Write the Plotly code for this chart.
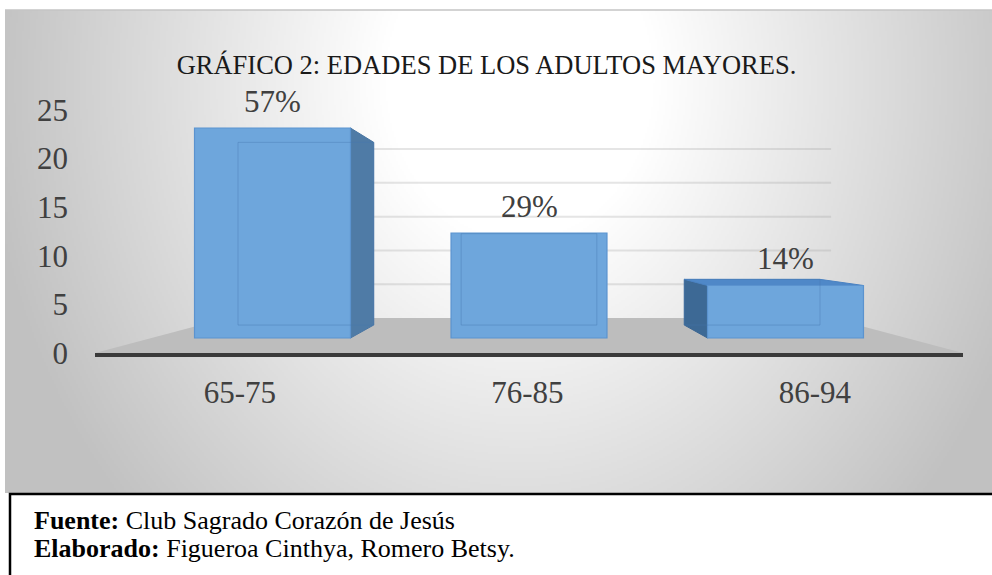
import base64
import struct
import zlib

import numpy as np
import plotly.graph_objects as go

# ---- data ----
categories = ["65-75", "76-85", "86-94"]
counts = [24, 12, 6]
y_ticks = [0, 5, 10, 15, 20, 25]

title_text = "GRÁFICO 2: EDADES DE LOS ADULTOS MAYORES."
source_line = "<b>Fuente:</b> Club Sagrado Corazón de Jesús"
author_line = "<b>Elaborado:</b> Figueroa Cinthya, Romero Betsy."

total = sum(counts)
percent_labels = [f"{round(100 * c / total)}%" for c in counts]

SERIF = "Liberation Serif, Times New Roman, DejaVu Serif, serif"

# ---- page geometry (pixels) ----
W, H = 992, 575
PL, PR, PT, PB = 95, 963, 40, 353          # plot area
PW, PH = PR - PL, PB - PT


def px_x(p):
    return (p - PL) / PW


def px_y(p):
    return (PB - p) / PH


# front plane (axis labels) and bar plane ranges
X_FRONT = [-0.504, 2.515]
Y_FRONT = [0, 32.2]
X_BAR = [-0.692, 2.692]
Y_BAR = [-1.714, 34.06]

# perspective: vanishing point in bar-plane coordinates and depth factors
VX, VY = 1.0, 11.4
S_BACK = 0.87     # back face of the bars
S_WALL = 0.696    # back wall / rear edge of the floor
BAR_W = 0.608


def proj(x, y, s):
    return VX + s * (x - VX), VY + s * (y - VY)


def path(pts):
    return "M " + " L ".join(f"{x:.4f},{y:.4f}" for x, y in pts) + " Z"


# ---- radial grey background of the chart area ----
def png_gray(arr):
    h, w = arr.shape
    raw = b"".join(b"\x00" + arr[r].tobytes() for r in range(h))

    def chunk(tag, data):
        return (struct.pack(">I", len(data)) + tag + data
                + struct.pack(">I", zlib.crc32(tag + data) & 0xFFFFFFFF))

    ihdr = struct.pack(">IIBBBBB", w, h, 8, 0, 0, 0, 0)
    return (b"\x89PNG\r\n\x1a\n" + chunk(b"IHDR", ihdr)
            + chunk(b"IDAT", zlib.compress(raw, 9)) + chunk(b"IEND", b""))


BG_L, BG_T, BG_R, BG_B = 5, 10, 992, 493
gw, gh = (BG_R - BG_L) // 2, (BG_B - BG_T) // 2
gx = np.linspace(BG_L, BG_R, gw)[None, :]
gy = np.linspace(BG_T, BG_B, gh)[:, None]
r = np.sqrt(((gx - 520) / 540) ** 2 + ((gy - 80) / 640) ** 2)
t = np.clip((r - 0.25) / 0.75, 0, 1)
shade = (255 - 62 * t).astype(np.uint8)
bg_uri = "data:image/png;base64," + base64.b64encode(png_gray(shade)).decode()

fig = go.Figure()

# carrier for the front-plane axes (category and value labels)
fig.add_trace(go.Scatter(x=[], y=[], xaxis="x", yaxis="y", mode="markers",
                         hoverinfo="skip", showlegend=False))

# front faces of the bars
fig.add_trace(go.Bar(
    x=list(range(len(categories))), y=counts, width=BAR_W,
    xaxis="x2", yaxis="y2",
    marker=dict(color="#6ea6dc", line=dict(color="#5b93cf", width=1.2)),
    hoverinfo="skip", showlegend=False,
))

shapes = []

# floor
f0 = (X_BAR[0], Y_BAR[0])
f1 = (X_BAR[1], Y_BAR[0])
shapes.append(dict(type="path", xref="x2", yref="y2", layer="below",
                   path=path([f0, f1, proj(*f1, S_WALL), proj(*f0, S_WALL)]),
                   fillcolor="#bdbdbd", line=dict(width=0)))

# gridlines on the back wall
scale = (Y_BAR[1] - Y_BAR[0]) / (Y_FRONT[1] - Y_FRONT[0])
for v in y_ticks[1:]:
    yb = Y_BAR[0] + v * scale
    xa, ya = proj(X_BAR[0], yb, S_WALL)
    xb, _ = proj(X_BAR[1], yb, S_WALL)
    shapes.append(dict(type="line", xref="x2", yref="y2", layer="below",
                       x0=xa, x1=xb, y0=ya, y1=ya,
                       line=dict(color="rgba(150,150,150,0.25)", width=2)))

# side and top faces of each bar
for i, v in enumerate(counts):
    x0, x1 = i - BAR_W / 2, i + BAR_W / 2
    if x1 < VX:
        shapes.append(dict(type="path", xref="x2", yref="y2", layer="below",
                           path=path([(x1, 0), (x1, v), proj(x1, v, S_BACK), proj(x1, 0, S_BACK)]),
                           fillcolor="#4f7ba6", line=dict(color="#4a76a3", width=1)))
    if x0 > VX:
        shapes.append(dict(type="path", xref="x2", yref="y2", layer="below",
                           path=path([(x0, 0), (x0, v), proj(x0, v, S_BACK), proj(x0, 0, S_BACK)]),
                           fillcolor="#3d6995", line=dict(color="#3a6592", width=1)))
    if v < VY:
        shapes.append(dict(type="path", xref="x2", yref="y2", layer="below",
                           path=path([(x0, v), (x1, v), proj(x1, v, S_BACK), proj(x0, v, S_BACK)]),
                           fillcolor="#4f88c8", line=dict(color="#4a82c2", width=1)))
    # rear edges seen through the translucent front face
    bx0, by0 = proj(x0, 0, S_BACK)
    bx1, by1 = proj(x1, v, S_BACK)
    shapes.append(dict(type="rect", xref="x2", yref="y2", layer="above",
                       x0=bx0, x1=bx1, y0=by0, y1=by1,
                       line=dict(color="rgba(70,120,175,0.4)", width=1)))

# top border of the chart area
shapes.append(dict(type="line", xref="paper", yref="paper",
                   x0=px_x(BG_L), x1=px_x(W), y0=px_y(BG_T), y1=px_y(BG_T),
                   line=dict(color="#c4c4c4", width=1.5)))
# caption box
shapes.append(dict(type="rect", xref="paper", yref="paper",
                   x0=px_x(10), x1=px_x(W + 20), y0=px_y(494), y1=px_y(H + 20),
                   fillcolor="white", line=dict(color="black", width=2.5)))

annotations = []
for i, (v, lab) in enumerate(zip(counts, percent_labels)):
    annotations.append(dict(xref="x2", yref="y2", x=i, y=v, text=lab, showarrow=False,
                            yanchor="middle", yshift=27,
                            font=dict(family=SERIF, size=31, color="#404040")))
for text, yc in [(source_line, 520), (author_line, 548)]:
    annotations.append(dict(xref="paper", yref="paper", x=px_x(32), y=px_y(yc),
                            xanchor="left", yanchor="middle", text=text, showarrow=False,
                            font=dict(family=SERIF, size=26, color="black")))

fig.update_layout(
    width=W, height=H,
    margin=dict(l=PL, r=W - PR, t=PT, b=H - PB, pad=0),
    paper_bgcolor="white",
    plot_bgcolor="rgba(0,0,0,0)",
    showlegend=False,
    font=dict(family=SERIF),
    title=dict(text=title_text, xref="paper", yref="container",
               x=px_x(486.5), y=1 - 65 / H, xanchor="center", yanchor="middle",
               font=dict(family=SERIF, size=26.5, color="#1a1a1a")),
    xaxis=dict(range=X_FRONT, tickvals=list(range(len(categories))), ticktext=categories,
               showgrid=False, zeroline=False, showline=True, linecolor="#3a3a3a", linewidth=3.5,
               ticks="", ticklabelstandoff=9, fixedrange=True,
               tickfont=dict(family=SERIF, size=31, color="#404040")),
    yaxis=dict(range=Y_FRONT, tickvals=y_ticks, showgrid=False, zeroline=False, showline=False,
               ticks="", ticklabelstandoff=26, fixedrange=True,
               tickfont=dict(family=SERIF, size=31, color="#404040")),
    xaxis2=dict(range=X_BAR, overlaying="x", anchor="y2", visible=False),
    yaxis2=dict(range=Y_BAR, overlaying="y", anchor="x2", visible=False),
    shapes=shapes,
    annotations=annotations,
    images=[dict(source=bg_uri, xref="paper", yref="paper",
                 x=px_x(BG_L), y=px_y(BG_T),
                 sizex=(BG_R - BG_L) / PW, sizey=(BG_B - BG_T) / PH,
                 xanchor="left", yanchor="top", sizing="stretch", layer="below")],
)

fig.write_html("out.html")
